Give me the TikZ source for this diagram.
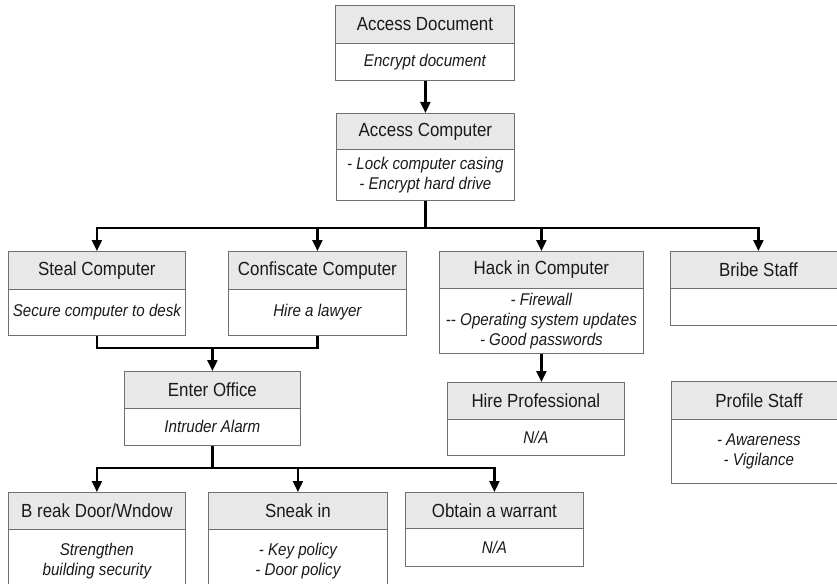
\documentclass[tikz,border=0pt]{standalone}
\usepackage{fontspec}
\setmainfont{Liberation Sans}[FakeStretch=0.89]
\usetikzlibrary{arrows.meta}
\definecolor{boxgray}{HTML}{707070}
\definecolor{hdfill}{HTML}{E8E8E8}
\definecolor{txt}{HTML}{1A1A1A}
\tikzset{
  hdbox/.style={draw=boxgray, line width=0.8pt, fill=hdfill, inner sep=0pt, anchor=north west,
    text=txt, font=\fontsize{19}{21}\selectfont},
  bdbox/.style={draw=boxgray, line width=0.8pt, fill=white, inner sep=0pt, anchor=north west,
    align=center, text=txt, font=\fontsize{17}{20}\selectfont\itshape},
  conn/.style={line width=2.2pt, black},
  arr/.style={conn, -{Triangle[length=11pt,width=10pt]}},
}
% name, left, top, right, divider, bottom, header, body
\newcommand\mybox[8]{%
  \node[hdbox, minimum width={#4-#2}, minimum height={#5-#3}] (#1-h) at (#2,#3) {#7};
  \node[bdbox, minimum width={#4-#2}, minimum height={#6-#5}] (#1-b) at (#2,#5) {#8};
}
\begin{document}
\begin{tikzpicture}[x=1pt,y=-1pt]
\useasboundingbox (0,0) rectangle (837,583);
\clip (0,0) rectangle (837,583);
\fill[white] (0,0) rectangle (837,583);

\mybox{ad}{335}{5}{514}{43}{80}{Access Document}{Encrypt document}
\mybox{ac}{336}{113}{514}{149}{200}{Access Computer}{- Lock computer casing\\- Encrypt hard drive}
\mybox{st}{8}{251}{185}{289}{335}{Steal Computer}{Secure computer to desk}
\mybox{co}{228}{251}{406}{289}{335}{Confiscate Computer}{Hire a lawyer}
\mybox{hk}{439}{251}{643}{288}{353}{Hack in Computer}{- Firewall\\-{}- Operating system updates\\- Good passwords}
\mybox{bs}{670}{251}{846}{288}{325}{Bribe Staff}{}
\mybox{hp}{447}{382}{624}{419}{455}{Hire Professional}{N/A}
\mybox{ps}{671}{381}{846}{419}{483}{Profile Staff}{- Awareness\\- Vigilance}
\mybox{eo}{124}{371}{300}{408}{445}{Enter Office}{Intruder Alarm}
\mybox{bd}{8}{492}{185}{529}{592}{B reak Door/Wndow}{Strengthen\\building security}
\mybox{sn}{208}{492}{387}{529}{592}{Sneak in}{- Key policy\\- Door policy}
\mybox{ow}{405}{492}{583}{528}{566}{Obtain a warrant}{N/A}

% connectors
\draw[arr] (ac-b.south |- ad-b.south) -- (ac-h.north);

\coordinate (bus1) at (ac-b.south |- 0,228);
\draw[conn] (ac-b.south) -- (bus1);
\draw[arr] (bus1) -| (st-h.north);
\draw[arr] (bus1) -| (co-h.north);
\draw[arr] (bus1) -| (hk-h.north);
\draw[arr] (bus1) -| (bs-h.north);

\draw[arr] (hk-b.south) -- (hk-b.south |- hp-h.north);

\coordinate (m1) at (eo-h.north |- 0,348);
\draw[conn] (st-b.south) |- (m1);
\draw[conn] (co-b.south) |- (m1);
\draw[arr] (m1) -- (eo-h.north);

\coordinate (bus2) at (eo-b.south |- 0,468);
\draw[conn] (eo-b.south) -- (bus2);
\draw[arr] (bus2) -| (bd-h.north);
\draw[arr] (bus2) -| (sn-h.north);
\draw[arr] (bus2) -| (ow-h.north);
\end{tikzpicture}
\end{document}
